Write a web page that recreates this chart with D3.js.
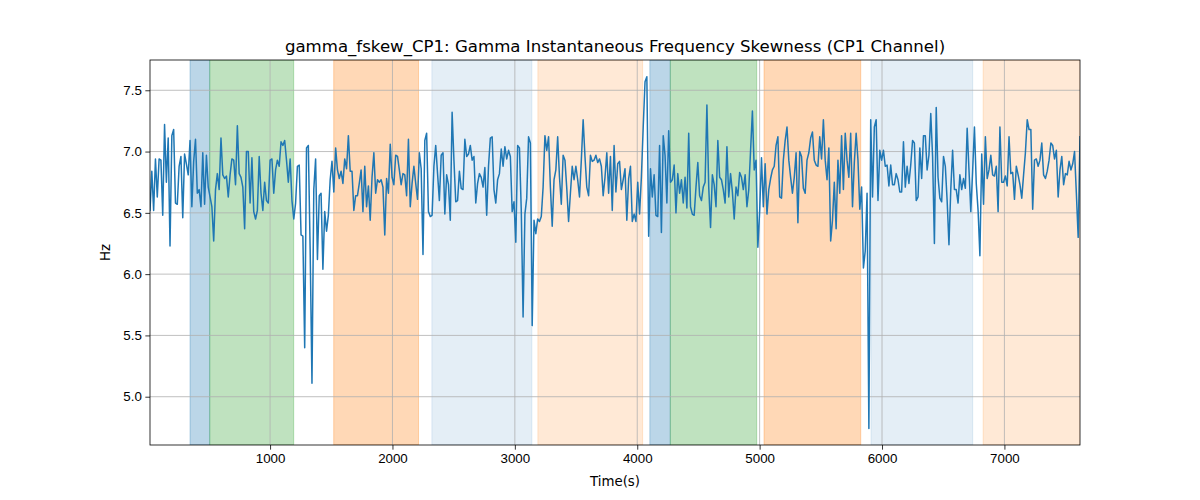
<!DOCTYPE html>
<html>
<head>
<meta charset="utf-8">
<script src="https://cdn.jsdelivr.net/npm/d3@7"></script>
<style>
  body { margin: 0; background: #fff; }
  svg { font-family: "DejaVu Sans", sans-serif; }
  .axis path, .axis line { stroke: #000; stroke-width: 0.8; }
  .axis text { font-size: 13.33px; fill: #000; }
  .grid line { stroke: #b0b0b0; stroke-width: 0.8; }
</style>
</head>
<body>
<div id="chart"></div>
<script>
// sampling of the trace (seconds)
const startTime = 19;
const sampleStep = 14.87;

// gamma instantaneous frequency skewness, Hz
const values = [
  6.52,6.84,6.52,6.94,6.63,6.94,6.93,6.48,7.22,6.75,7.11,6.23,7.13,7.18,6.58,6.57,6.88,6.96,6.46,6.98,
  6.90,6.81,7.09,6.55,6.92,7.10,6.66,6.69,6.55,6.99,6.57,6.97,6.71,6.63,6.55,6.27,6.69,6.82,6.69,7.11,
  6.81,6.78,6.80,6.63,6.81,6.94,6.93,6.73,7.21,6.82,6.79,6.71,6.37,7.00,7.00,6.58,6.95,6.51,6.45,6.52,
  6.96,6.66,6.52,6.75,6.60,6.58,6.93,6.94,6.66,6.85,6.93,6.88,7.08,7.05,7.09,6.93,6.75,6.94,6.60,6.45,
  6.58,6.88,
  6.89,6.32,6.31,5.40,7.03,7.05,6.20,5.11,6.69,6.94,6.12,6.64,6.66,6.04,6.51,6.35,6.48,6.77,6.92,6.67,7.03,
  6.85,6.78,6.84,6.74,6.94,6.86,7.13,6.84,6.84,6.52,6.64,6.64,6.74,6.85,6.51,6.88,6.55,6.72,6.44,6.79,
  6.99,6.66,6.77,6.75,6.77,6.71,6.32,6.78,6.66,7.06,6.79,6.73,6.97,6.96,6.85,6.73,6.82,6.81,6.64,7.10,
  6.55,6.74,6.88,6.74,6.61,6.99,6.86,6.16,7.09,7.15,6.51,6.47,6.48,6.88,7.05,6.82,6.60,6.97,6.99,6.49,
  6.81,6.73,
  6.44,7.32,6.93,6.59,6.60,6.84,6.70,6.69,7.10,6.96,6.98,7.05,6.93,6.96,6.58,6.74,6.82,6.79,6.71,6.87,
  6.48,6.88,7.11,7.12,6.69,6.58,6.77,6.82,7.02,6.88,7.04,6.94,7.01,6.96,6.51,6.59,6.26,7.05,7.03,6.52,
  5.65,6.49,6.62,7.12,7.07,5.58,6.44,6.33,6.45,6.43,6.47,6.71,7.13,7.01,7.12,6.71,6.39,6.77,6.85,7.12,
  6.79,6.57,6.97,6.93,6.70,6.43,6.66,6.88,6.77,6.88,6.77,6.63,6.93,7.26,6.96,6.71,6.64,6.97,6.92,6.93,
  6.97,6.91,6.94,
  6.88,6.64,6.79,6.99,6.66,6.96,6.52,7.05,6.67,6.90,6.92,6.69,6.77,6.86,6.44,6.78,6.88,6.43,6.49,6.43,
  6.75,6.49,6.79,7.20,7.57,7.61,6.31,6.86,6.63,6.81,6.48,6.47,7.05,6.34,7.13,6.97,6.58,7.17,6.75,6.77,
  6.89,6.50,6.82,6.66,6.77,6.58,6.79,6.54,7.15,6.55,6.49,6.48,6.71,6.91,6.64,6.60,6.71,6.75,7.38,6.71,
  6.38,6.81,6.73,6.55,7.09,6.79,6.77,6.69,6.58,7.04,6.63,6.82,6.67,6.45,6.71,6.64,6.83,6.79,6.69,6.81,
  6.55,6.69,7.01,
  7.33,6.85,6.93,6.22,6.52,6.95,6.55,6.90,6.49,6.69,6.78,6.85,6.88,7.05,7.12,6.63,6.62,6.93,7.09,7.20,
  6.93,6.79,6.66,6.79,6.99,6.42,7.00,6.96,6.70,6.66,6.93,6.99,7.11,7.16,6.93,6.89,6.88,7.12,6.94,7.26,
  6.93,6.77,7.03,6.27,6.44,6.75,6.37,6.93,6.66,7.13,6.69,7.15,6.93,6.79,7.15,6.55,6.91,7.15,6.93,6.53,
  6.71,6.05,6.19,6.66,4.74,7.26,6.63,7.20,7.26,6.60,7.01,6.93,7.01,6.88,6.89,6.72,6.89,6.73,6.73,6.82,
  6.77,6.67,
  6.67,7.08,6.71,6.88,6.74,6.89,7.09,7.07,6.60,6.63,7.03,6.78,7.13,7.13,6.85,6.97,7.31,6.96,6.25,7.36,
  6.79,6.62,6.59,6.96,6.88,6.60,6.24,6.69,7.01,6.69,6.69,6.58,6.81,6.69,6.78,6.70,7.19,6.85,6.51,6.84,
  7.20,6.74,6.52,6.15,6.98,6.57,7.12,6.78,6.85,6.97,6.81,6.80,6.88,6.51,7.20,6.75,6.75,6.80,6.72,7.12,
  6.82,6.83,6.61,6.88,6.81,6.73,6.62,6.81,6.99,7.26,7.18,7.18,6.53,6.93,6.94,6.88,6.93,7.07,6.81,6.78,
  6.84,6.93,7.07,7.05,6.94,7.01,6.63,6.85,6.96,6.73,6.82,6.81,6.92,6.85,6.90,7.00,6.66,6.30,7.12
];

// shaded stages: [start, end] in seconds
const bandStarts = [346, 507, 1520, 2322, 3188, 4103, 4270, 5036, 5910, 6826];
const bandEnds   = [507, 1193, 2213, 3139, 4044, 4270, 4976, 5826, 6741, 7619];
const bandKinds  = ['blue', 'green', 'orange', 'lightblue', 'lightorange',
                    'blue', 'green', 'orange', 'lightblue', 'lightorange'];

const xTicks = [1000, 2000, 3000, 4000, 5000, 6000, 7000];
const yTicks = [5.0, 5.5, 6.0, 6.5, 7.0, 7.5];

const bandStyle = {
  blue:        { color: '#1f77b4', alpha: 0.3 },
  green:       { color: '#2ca02c', alpha: 0.3 },
  orange:      { color: '#ff7f0e', alpha: 0.3 },
  lightblue:   { color: '#1f77b4', alpha: 0.12 },
  lightorange: { color: '#ff7f0e', alpha: 0.17 },
};

const translation = function(x, y) {
  return 'translate(' + x + ',' + y + ')';
};

const W = 1200, H = 500;
const margin = { top: 60, right: 120, bottom: 55, left: 150 };
const width = W - margin.left - margin.right;
const height = H - margin.top - margin.bottom;

const data = values.map(function(v, i) { return { t: startTime + i * sampleStep, v: v }; });

const svg = d3.select('#chart').append('svg')
  .attr('width', W)
  .attr('height', H);

const g = svg.append('g').attr('transform', translation(margin.left, margin.top));

const xScale = d3.scaleLinear()
  .domain(d3.extent(data, d => d.t))
  .range([0, width]);

const yScale = d3.scaleLinear()
  .domain([4.606, 7.747])
  .range([height, 0]);

g.append('clipPath').attr('id', 'plot-clip')
  .append('rect').attr('width', width).attr('height', height);

// bands
const bands = bandStarts.map(function(s, i) { return { s: s, e: bandEnds[i], kind: bandKinds[i] }; });

g.append('g')
  .attr('clip-path', 'url(#plot-clip)')
  .selectAll('rect')
  .data(bands)
  .enter().append('rect')
  .attr('x', d => xScale(d.s))
  .attr('y', 0)
  .attr('width', d => xScale(d.e) - xScale(d.s))
  .attr('height', height)
  .attr('fill', d => bandStyle[d.kind].color)
  .attr('fill-opacity', d => bandStyle[d.kind].alpha)
  .attr('stroke', d => bandStyle[d.kind].color)
  .attr('stroke-opacity', d => bandStyle[d.kind].alpha)
  .attr('stroke-width', 1);

// grid
g.append('g').attr('class', 'grid')
  .selectAll('line.gx')
  .data(xTicks)
  .enter().append('line')
  .attr('x1', d => xScale(d)).attr('x2', d => xScale(d))
  .attr('y1', 0).attr('y2', height);

g.append('g').attr('class', 'grid')
  .selectAll('line.gy')
  .data(yTicks)
  .enter().append('line')
  .attr('x1', 0).attr('x2', width)
  .attr('y1', d => yScale(d)).attr('y2', d => yScale(d));

// trace
const line = d3.line()
  .x(d => xScale(d.t))
  .y(d => yScale(d.v));

g.append('path')
  .datum(data)
  .attr('clip-path', 'url(#plot-clip)')
  .attr('fill', 'none')
  .attr('stroke', '#1f77b4')
  .attr('stroke-width', 1.5)
  .attr('stroke-linejoin', 'round')
  .attr('stroke-linecap', 'square')
  .attr('d', line);

// axes
const xAxis = d3.axisBottom(xScale)
  .tickValues(xTicks)
  .tickSize(4.67)
  .tickPadding(3.5)
  .tickFormat(d3.format('d'));

const yAxis = d3.axisLeft(yScale)
  .tickValues(yTicks)
  .tickSize(4.67)
  .tickPadding(3.5)
  .tickFormat(d3.format('.1f'));

g.append('g')
  .attr('class', 'axis x')
  .attr('transform', translation(0, height))
  .call(xAxis)
  .call(s => s.select('.domain').remove());

g.append('g')
  .attr('class', 'axis y')
  .call(yAxis)
  .call(s => s.select('.domain').remove());

// spines
g.append('rect')
  .attr('width', width)
  .attr('height', height)
  .attr('fill', 'none')
  .attr('stroke', '#000')
  .attr('stroke-width', 0.8);

// labels
svg.append('text')
  .attr('x', margin.left + width / 2)
  .attr('y', margin.top - 8)
  .attr('text-anchor', 'middle')
  .style('font-size', '16.6px')
  .text('gamma_fskew_CP1: Gamma Instantaneous Frequency Skewness (CP1 Channel)');

svg.append('text')
  .attr('x', margin.left + width / 2)
  .attr('y', 486)
  .attr('text-anchor', 'middle')
  .style('font-size', '13.33px')
  .text('Time(s)');

svg.append('text')
  .attr('transform', translation(110, margin.top + height / 2) + 'rotate(-90)')
  .attr('text-anchor', 'middle')
  .style('font-size', '13.33px')
  .text('Hz');
</script>
</body>
</html>
